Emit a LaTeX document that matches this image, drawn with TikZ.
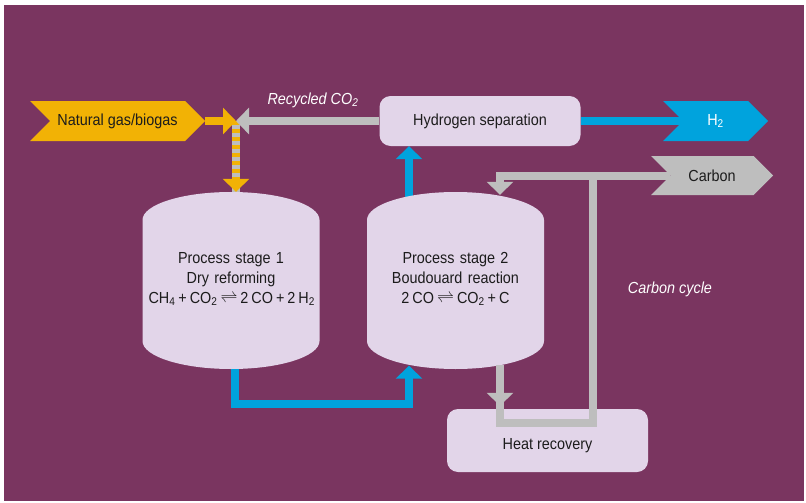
\documentclass[tikz,border=0pt]{standalone}
\usepackage{fontspec}
\setmainfont{Liberation Sans}[FakeStretch=0.9]
\usepackage{tikz}
\usetikzlibrary{arrows.meta, positioning, shapes.symbols, backgrounds}
\pgfdeclarelayer{panel}
\pgfsetlayers{panel,background,main}
\definecolor{plum}{HTML}{7A3560}
\definecolor{lilac}{HTML}{E2D5E9}
\definecolor{amber}{HTML}{F2B205}
\definecolor{ash}{HTML}{BEBEBE}
\definecolor{sky}{HTML}{00A3DD}
\definecolor{ink}{HTML}{1C1C1C}
\newcommand{\figfont}{\fontsize{16}{20}\selectfont}
\newcommand{\eqsp}{\kern3pt}
\tikzset{
  box/.style  ={rectangle, rounded corners=11pt, fill=lilac, text=ink, align=center, font=\figfont},
  stg/.style  ={rectangle, minimum width=177pt, minimum height=177pt, text width=165pt, text=ink, align=center, font=\figfont,
                path picture={\fill[lilac] ([yshift=-28pt]path picture bounding box.north west)
                  arc[start angle=180, end angle=0, x radius=88.5pt, y radius=28pt]
                  -- ([yshift=28pt]path picture bounding box.south east)
                  arc[start angle=0, end angle=-180, x radius=88.5pt, y radius=28pt] -- cycle;}},
  tag/.style  ={signal, signal from=west, signal to=east, signal pointer angle=90, inner sep=0pt, text=ink, font=\figfont},
  note/.style ={text=white, font=\figfont\itshape},
  fl/.style   ={line width=8pt, -{Triangle[length=13pt, width=26pt]}},
  ln/.style   ={line width=8pt},
}

\begin{document}
\begin{tikzpicture}[x=1pt, y=1pt]
  \useasboundingbox (0,0) rectangle (806,-503);
  \begin{pgfonlayer}{panel}
    \fill[plum] (4,-5) rectangle (804,-501);
  \end{pgfonlayer}

  \node[tag, fill=amber, minimum width=175pt, minimum height=40pt] (feed) at (117.5,-121) {Natural gas/biogas};
  \node[box, minimum width=201pt, minimum height=50pt] (hsep) at (480,-121) {Hydrogen separation};
  \node[tag, fill=sky, text=white, minimum width=105pt, minimum height=40pt] (h2) at (715.5,-121) {H\textsubscript{2}};
  \node[tag, fill=ash, minimum width=122pt, minimum height=39pt] (carbon) at (712,-175.5) {Carbon};
  \node[stg] (st1) at (231,-280.5) {Process stage 1\\Dry reforming\\CH\textsubscript{4}\eqsp+\eqsp CO\textsubscript{2}\eqsp${\rightleftharpoons}$\eqsp 2\eqsp CO\eqsp+\eqsp 2\eqsp H\textsubscript{2}\\[-14pt]\mbox{}};
  \node[stg] (st2) at (455.5,-280.5) {Process stage 2\\Boudouard reaction\\2\eqsp CO\eqsp${\rightleftharpoons}$\eqsp CO\textsubscript{2}\eqsp+\eqsp C\\[-14pt]\mbox{}};
  \node[box, minimum width=201pt, minimum height=63pt, text height=21pt] (heat) at (547.5,-440.5) {Heat recovery};
  \node[note] (recyc) at (313,-100) {Recycled CO\textsubscript{2}};
  \node[note] (cyc) at (670,-289) {Carbon cycle};

  \coordinate (mix) at (236,-121);
  \coordinate (bx) at (409,0);
  \coordinate (blo) at (235,-404);
  \coordinate (cx) at (500,0);
  \coordinate (hl) at (500,-423);
  \coordinate (cj) at (593,-175.5);

  \begin{pgfonlayer}{background}
    % feed into stage 1
    \draw[ln, ash] (mix) -- (mix |- st1.north);
    \draw[fl, amber, dash pattern=on 4pt off 4pt] (mix) -- (mix |- st1.north);
    \draw[fl, amber] (feed.east) -- (mix);
    \draw[fl, ash] (hsep.west) -- (mix);
    % hydrogen line
    \draw[ln, sky] (hsep.east) -- (h2.west);
    \draw[fl, sky] ([yshift=-10pt]bx |- st2.north) -- (bx |- hsep.south);
    \draw[fl, sky] ([yshift=10pt]blo |- st1.south) -- (blo) -| ([yshift=3.5pt]bx |- st2.south);
    % carbon back into stage 2
    \draw[fl, ash] (carbon.west) -| ([yshift=-3pt]cx |- st2.north);
  \end{pgfonlayer}

  % carbon cycle over heat recovery
  \draw[ln, ash] ([yshift=4pt]cx |- st2.south) -- (hl) -| (cj);
  \draw[fl, ash] ([yshift=4pt]cx |- st2.south) -- ([yshift=3pt]cx |- heat.north);
\end{tikzpicture}
\end{document}
